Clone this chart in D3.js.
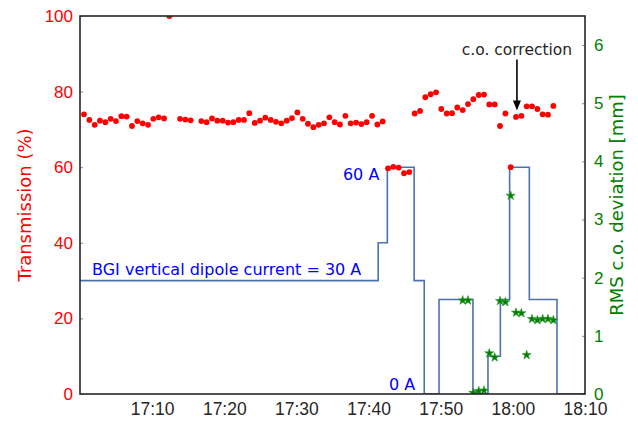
<!DOCTYPE html>
<html>
<head>
<meta charset="utf-8">
<script src="https://cdn.jsdelivr.net/npm/d3@7"></script>
<style>
  body { margin: 0; background: #fff; }
  svg { font-family: "DejaVu Sans", sans-serif; }
</style>
</head>
<body>
<svg id="chart"></svg>
<script>
//transmission samples (red dots, left axis)
const transTimes = [
  "17:00:33","17:01:18","17:02:02","17:02:46","17:03:31","17:04:15","17:04:59","17:05:44",
  "17:06:28","17:07:12","17:07:57","17:08:41","17:09:26","17:10:10","17:10:54","17:11:39",
  "17:12:23","17:13:52","17:14:36","17:15:20","17:16:49","17:17:33","17:18:18","17:19:02",
  "17:19:47","17:20:31","17:21:15","17:22:00","17:22:44","17:23:28","17:24:13","17:24:57",
  "17:25:41","17:26:26","17:27:10","17:27:54","17:28:39","17:29:23","17:30:08","17:30:52",
  "17:31:36","17:32:21","17:33:05","17:33:49","17:34:34","17:35:18","17:36:02","17:36:47",
  "17:37:31","17:38:16","17:39:00","17:39:44","17:40:29","17:41:13","17:41:57","17:42:42",
  "17:43:26","17:44:10","17:44:55","17:45:39","17:46:23","17:47:08","17:47:52","17:48:37",
  "17:49:21","17:50:05","17:50:50","17:51:34","17:52:18","17:53:03","17:53:47","17:54:31",
  "17:55:16","17:56:00","17:56:44","17:57:29","17:58:13","17:58:58","17:59:42","18:00:26",
  "18:01:11","18:01:55","18:02:39","18:03:24","18:04:08","18:04:52","18:05:37"
]
const transValues = [
  74.0, 72.5, 71.2, 72.3, 71.9, 72.8, 72.2, 73.5,
  73.4, 70.9, 72.2, 71.6, 71.2, 72.8, 73.2, 72.9,
  100.0, 72.8, 72.6, 72.4, 72.2, 71.9, 72.9, 72.3,
  72.3, 71.8, 71.9, 72.5, 72.5, 74.3, 71.7, 72.3,
  73.1, 72.5, 72.0, 71.6, 72.3, 73.0, 74.5, 72.8,
  71.5, 70.6, 71.2, 71.6, 73.2, 71.9, 71.3, 73.6,
  71.6, 71.8, 71.4, 71.9, 73.6, 71.3, 72.1, 59.7,
  60.1, 59.9, 58.4, 58.7, 74.2, 74.9, 78.5, 79.3,
  79.8, 75.4, 74.2, 74.3, 75.8, 75.1, 76.7, 78.0,
  79.1, 79.2, 76.6, 76.6, 70.9, 74.2, 60.0, 73.3,
  73.6, 76.1, 76.1, 75.4, 74.0, 73.9, 76.2
]

//RMS closed orbit deviation (green stars, right axis)
const rmsTimes = [
  "17:53:03","17:53:47","17:54:31","17:55:16","17:56:00","17:56:44","17:57:29","17:58:13",
  "17:58:58","17:59:42","18:00:26","18:01:11","18:01:55","18:02:39","18:03:24","18:04:08",
  "18:04:52","18:05:37"
]
const rmsValues = [
  1.61, 1.61, 0.02, 0.05, 0.06, 0.70, 0.63, 1.60,
  1.58, 3.41, 1.40, 1.39, 0.67, 1.29, 1.27, 1.29,
  1.29, 1.27
]

//BGI vertical dipole current steps (A, left axis)
const currentTimes = [
  "17:00:00","17:41:20","17:42:36","17:46:19","17:47:43","17:49:46","17:54:28",
  "17:56:33","17:58:16","17:59:33","18:02:17","18:06:07"
]
const currentValues = [30, 40, 60, 30, 0, 25, 0, 10, 25, 60, 25, 0]

const xTickLabels = ["17:10","17:20","17:30","17:40","17:50","18:00","18:10"]
const leftTicks = [0, 20, 40, 60, 80, 100]
const rightTicks = [0, 1, 2, 3, 4, 5, 6]

//set up svg container
const width = 638
const height = 421
const margin = { left: 80, right: 53, top: 16, bottom: 27 }

const svg = d3.select('#chart')
              .attr('width', width)
              .attr('height', height)

const parse = d3.timeParse('%H:%M:%S')
const parseHM = d3.timeParse('%H:%M')

//setting the scales
const xScale = d3.scaleTime()
                 .domain([parse('17:00:00'), parse('18:10:00')])
                 .range([margin.left, width - margin.right])

const yLeft = d3.scaleLinear()
                .domain([0, 100])
                .range([height - margin.bottom, margin.top])

const yRight = d3.scaleLinear()
                 .domain([0, 6.5])
                 .range([height - margin.bottom, margin.top])

svg.append('clipPath').attr('id', 'plotClip')
   .append('rect')
   .attr('x', margin.left)
   .attr('y', margin.top)
   .attr('width', width - margin.left - margin.right)
   .attr('height', height - margin.top - margin.bottom)

const plot = svg.append('g').attr('clip-path', 'url(#plotClip)')

//current step line
const currentData = currentTimes.map((t, i) => ({ t: parse(t), v: currentValues[i] }))
currentData.push({ t: parse('18:10:00'), v: 0 })

plot.append('path')
    .datum(currentData)
    .attr('fill', 'none')
    .attr('stroke', '#4c72b0')
    .attr('stroke-width', 1.6)
    .attr('d', d3.line()
                 .x(d => xScale(d.t))
                 .y(d => yLeft(d.v))
                 .curve(d3.curveStepAfter))

//transmission dots
plot.selectAll('.dot')
    .data(transValues)
    .join('circle')
    .attr('class', 'dot')
    .attr('cx', (v, i) => xScale(parse(transTimes[i])))
    .attr('cy', v => yLeft(v))
    .attr('r', 2.9)
    .attr('fill', '#ff0000')

//rms stars
plot.selectAll('.star')
    .data(rmsValues)
    .join('path')
    .attr('class', 'star')
    .attr('d', d3.symbol(d3.symbolStar, 26))
    .attr('transform', (v, i) => `translate(${xScale(parse(rmsTimes[i]))}, ${yRight(v)})`)
    .attr('fill', '#008000')
    .attr('stroke', '#2a9a2a')
    .attr('stroke-width', 0.6)

//setting the axes
const xAxis = d3.axisBottom(xScale)
                .tickValues(xTickLabels.map(parseHM))
                .tickFormat(d3.timeFormat('%H:%M'))
                .tickSize(0)
                .tickPadding(9)

const leftAxis = d3.axisLeft(yLeft)
                   .tickValues(leftTicks)
                   .tickFormat(d3.format('d'))
                   .tickSizeInner(-3)
                   .tickSizeOuter(0)
                   .tickPadding(7)

const rightAxis = d3.axisRight(yRight)
                    .tickValues(rightTicks)
                    .tickFormat(d3.format('d'))
                    .tickSizeInner(-3)
                    .tickSizeOuter(0)
                    .tickPadding(9)

const gx = svg.append('g')
              .attr('transform', `translate(0, ${height - margin.bottom})`)
              .call(xAxis)
gx.selectAll('text').attr('fill', '#262626').style('font-size', '17.5px')

const gl = svg.append('g')
              .attr('transform', `translate(${margin.left}, 0)`)
              .call(leftAxis)
gl.selectAll('text').attr('fill', '#ff0000').style('font-size', '17px')
gl.selectAll('line').attr('stroke', '#888')

const gr = svg.append('g')
              .attr('transform', `translate(${width - margin.right}, 0)`)
              .call(rightAxis)
gr.selectAll('text').attr('fill', '#008000').style('font-size', '17px')
gr.selectAll('line').attr('stroke', '#888')

svg.selectAll('.domain').remove()
gx.selectAll('.tick line').remove()

//frame
svg.append('rect')
   .attr('x', margin.left)
   .attr('y', margin.top)
   .attr('width', width - margin.left - margin.right)
   .attr('height', height - margin.top - margin.bottom)
   .attr('fill', 'none')
   .attr('stroke', '#262626')
   .attr('stroke-width', 1.6)

//axis titles
svg.append('text')
   .attr('transform', `translate(31, ${(margin.top + height - margin.bottom) / 2}) rotate(-90)`)
   .attr('text-anchor', 'middle')
   .attr('fill', '#ff0000')
   .style('font-size', '18px')
   .text('Transmission (%)')

svg.append('text')
   .attr('transform', `translate(623, ${(margin.top + height - margin.bottom) / 2}) rotate(-90)`)
   .attr('text-anchor', 'middle')
   .attr('fill', '#008000')
   .style('font-size', '18px')
   .text('RMS c.o. deviation [mm]')

//current labels
svg.append('text')
   .attr('x', xScale(parse('17:01:40')))
   .attr('y', yLeft(30) - 6)
   .attr('fill', '#0000ff')
   .style('font-size', '16px')
   .text('BGI vertical dipole current = 30 A')

svg.append('text')
   .attr('x', xScale(parse('17:42:36')) - 8)
   .attr('y', yLeft(60) + 13)
   .attr('text-anchor', 'end')
   .attr('fill', '#0000ff')
   .style('font-size', '16px')
   .text('60 A')

svg.append('text')
   .attr('x', xScale(parse('17:47:43')) - 9)
   .attr('y', yLeft(0) - 4)
   .attr('text-anchor', 'end')
   .attr('fill', '#0000ff')
   .style('font-size', '16px')
   .text('0 A')

//c.o. correction arrow
const arrowX = xScale(parse('18:00:34'))
const arrowTop = yLeft(88.5)
const arrowTip = yLeft(75)

svg.append('text')
   .attr('x', arrowX)
   .attr('y', yLeft(89.8))
   .attr('text-anchor', 'middle')
   .attr('fill', '#262626')
   .style('font-size', '15.5px')
   .text('c.o. correction')

svg.append('line')
   .attr('x1', arrowX).attr('x2', arrowX)
   .attr('y1', arrowTop).attr('y2', arrowTip - 8)
   .attr('stroke', '#000')
   .attr('stroke-width', 1.6)

svg.append('path')
   .attr('d', `M${arrowX - 4},${arrowTip - 10} L${arrowX + 4},${arrowTip - 10} L${arrowX},${arrowTip} Z`)
   .attr('fill', '#000')
</script>
</body>
</html>
